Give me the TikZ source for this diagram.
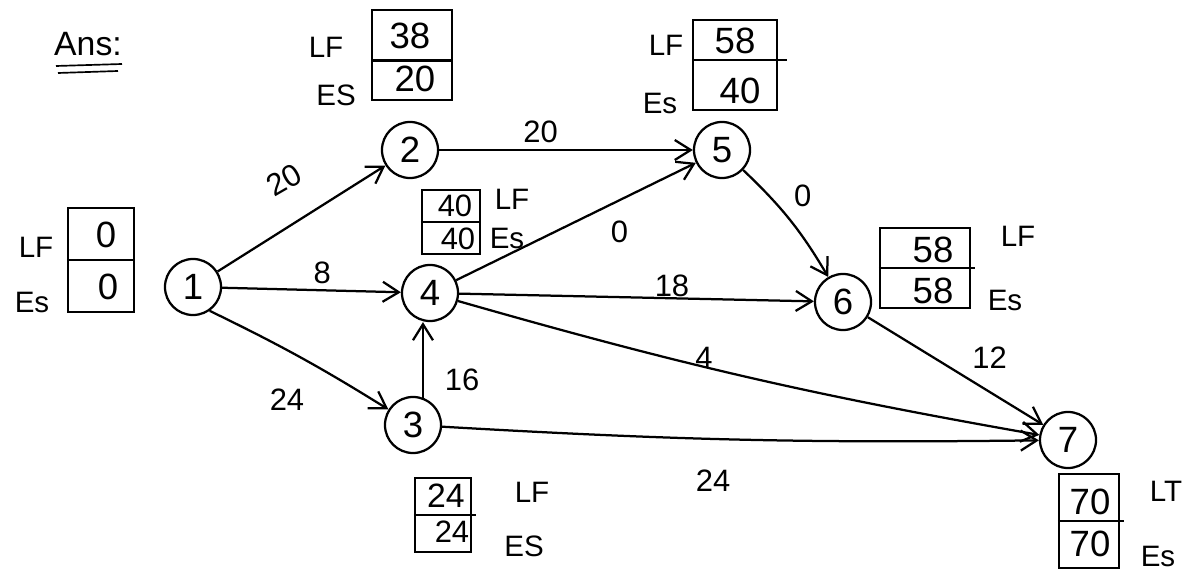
\documentclass[tikz,border=0pt]{standalone}
\usepackage{fontspec}
\setmainfont{Liberation Sans}
\usetikzlibrary{arrows.meta}
\begin{document}
\begin{tikzpicture}[x=0.025cm,y=-0.025cm,
  line width=1.6pt,
  event/.style={circle,draw,minimum size=1.4cm,inner sep=0pt,font=\fontsize{26}{28}\selectfont},
  timebox/.style={draw,inner sep=0pt},
  val/.style={font=\fontsize{26}{28}\selectfont,inner sep=0pt},
  tag/.style={font=\fontsize{21}{23}\selectfont,inner sep=0pt},
  dur/.style={font=\fontsize{22}{24}\selectfont,inner sep=1pt},
  act/.style={-{Straight Barb[length=4mm,width=5mm]}}]
\useasboundingbox (0,0) rectangle (1185,570);

% heading
\node[font=\fontsize{24}{26}\selectfont,inner sep=0pt] (ans) at (88,44) {Ans:};
\draw[line width=1.2pt] (56,66) -- (122,64);
\draw[line width=1.2pt] (58,73) -- (118,71);

% events
\node[event] (n1) at (193,287) {1};
\node[event] (n2) at (410,150) {2};
\node[event] (n3) at (413,425) {3};
\node[event] (n4) at (430,293) {4};
\node[event] (n5) at (722,150) {5};
\node[event] (n6) at (843,302) {6};
\node[event] (n7) at (1068,440) {7};

% time boxes: LF above, ES below
\node[timebox,minimum width=1.65cm,minimum height=2.6cm] (b1) at (101,260) {};
\draw (b1.west) -- (b1.east);
\node[val] (b1l) at (106,235) {0};
\node[val] (b1e) at (108,287) {0};
\node[tag] (b1lt) at (36,247) {LF};
\node[tag] (b1et) at (32,302) {Es};

\node[timebox,minimum width=2cm,minimum height=2.25cm] (b2) at (412,55) {};
\draw ([yshift=-4pt]b2.west) -- ([yshift=-4pt]b2.east);
\node[val] (b2l) at (410,36) {38};
\node[val] (b2e) at (415,79) {20};
\node[tag] (b2lt) at (326,47) {LF};
\node[tag] (b2et) at (336,95) {ES};

\node[timebox,minimum width=2.1cm,minimum height=2.25cm] (b5) at (735,65) {};
\draw (b5.west |- 0,60) -- ([xshift=6pt]b5.east |- 0,60);
\node[val] (b5l) at (735,41) {58};
\node[val] (b5e) at (740,91) {40};
\node[tag] (b5lt) at (666,45) {LF};
\node[tag] (b5et) at (660,103) {Es};

\node[timebox,minimum width=1.45cm,minimum height=1.6cm] (b4) at (451,222) {};
\draw (b4.west) -- (b4.east);
\node[val,font=\fontsize{22}{24}\selectfont] (b4l) at (455,206) {40};
\node[val,font=\fontsize{22}{24}\selectfont] (b4e) at (458,239) {40};
\node[tag] (b4lt) at (512,199) {LF};
\node[tag] (b4et) at (507,238) {Es};

\node[timebox,minimum width=2.25cm,minimum height=2cm] (b6) at (925,268) {};
\draw (b6.west) -- ([xshift=3pt]b6.east);
\node[val] (b6l) at (933,250) {58};
\node[val] (b6e) at (933,291) {58};
\node[tag] (b6lt) at (1018,236) {LF};
\node[tag] (b6et) at (1005,300) {Es};

\node[timebox,minimum width=1.4cm,minimum height=1.85cm] (b3) at (443,515) {};
\draw (b3.west) -- ([xshift=3pt]b3.east);
\node[val,font=\fontsize{24}{26}\selectfont] (b3l) at (446,496) {24};
\node[val,font=\fontsize{22}{24}\selectfont] (b3e) at (452,532) {24};
\node[tag] (b3lt) at (532,492) {LF};
\node[tag] (b3et) at (524,546) {ES};

\node[timebox,minimum width=1.5cm,minimum height=2.35cm] (b7) at (1089,521) {};
\draw (b7.west) -- ([xshift=3pt]b7.east);
\node[val] (b7l) at (1090,502) {70};
\node[val] (b7e) at (1090,544) {70};
\node[tag] (b7lt) at (1166,491) {LT};
\node[tag] (b7et) at (1158,556) {Es};

% activity durations
\node[dur,rotate=30] (d12) at (284,180) {20};
\node[dur] (d13) at (287,400) {24};
\node[dur] (d34) at (462,380) {16};

% activities
\draw[act] (n1) -- (n2);
\draw[act] (n1) -- node[dur,pos=0.56,above=3pt] {8} (n4);
\draw[act] (n1.-55) to[bend left=3] (n3);
\draw[act] (n3.70) -- (n3.70 |- n4.south);
\draw[act] (n2) -- node[dur,pos=0.4,above=3pt] {20} (n5);
\draw[act] (n4) -- node[dur,pos=0.6,below right=6pt] {0} (n5);
\draw[act] (n5) to[bend left=8] node[dur,pos=0.45,above right=4pt] {0} (n6);
\draw[act] (n4) -- node[dur,pos=0.6,above=-1pt] {18} (n6);
\draw[act] (n4) to[bend left=-3] node[dur,pos=0.42,above=-3pt] {4} (n7);
\draw[act] (n3) to[bend left=-2] node[dur,pos=0.45,below=20pt] {24} (n7);
\draw[act] (n6) -- node[dur,pos=0.55,above right=4pt] {12} (n7);
\end{tikzpicture}
\end{document}
